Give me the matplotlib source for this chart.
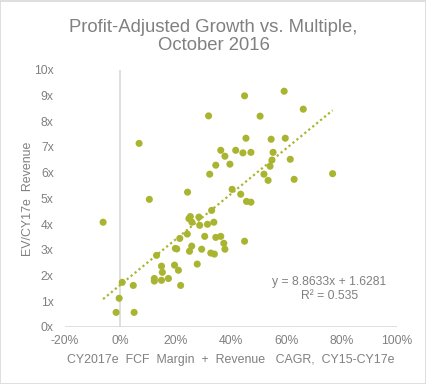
import matplotlib
matplotlib.use('Agg')
import matplotlib.pyplot as plt
import numpy as np
from matplotlib.patches import Rectangle
from matplotlib.ticker import FuncFormatter

# Profit-adjusted growth (FCF margin + revenue CAGR) vs EV / revenue multiple
growth = [
    0.319, 0.068, 0.363, 0.417, 0.378, 0.345, 0.396, 0.323, 0.404, 0.435,
    0.243, 0.105, -0.062, 0.330, 0.253, 0.284, 0.248, 0.259, 0.287, 0.315,
    0.338, 0.242, 0.215, 0.305, 0.345, 0.363, 0.374, 0.199, 0.204, 0.258,
    0.250, 0.294, 0.327, 0.340, 0.378, 0.131, 0.278, 0.149, 0.196, 0.210,
    0.152, 0.123, 0.123, 0.149, 0.174, 0.218, 0.047, 0.007, -0.004, -0.015,
    0.050, 0.449, 0.592, 0.661, 0.505, 0.454, 0.545, 0.596, 0.443, 0.472,
    0.552, 0.548, 0.614, 0.541, 0.519, 0.534, 0.628, 0.767, 0.456, 0.472,
    0.449,
]
multiple = [
    8.21, 7.14, 6.87, 6.87, 6.64, 6.29, 6.33, 5.94, 5.35, 5.16,
    5.24, 4.96, 4.07, 4.53, 4.29, 4.27, 4.21, 4.07, 3.95, 3.99,
    4.07, 3.61, 3.44, 3.52, 3.48, 3.52, 3.25, 3.05, 3.03, 3.14,
    2.94, 3.02, 2.87, 2.83, 3.02, 2.78, 2.44, 2.36, 2.40, 2.20,
    2.12, 1.88, 1.78, 1.81, 1.88, 1.61, 1.61, 1.73, 1.11, 0.56,
    0.56, 8.99, 9.17, 8.47, 8.20, 7.34, 7.30, 7.34, 6.77, 6.79,
    6.79, 6.49, 6.52, 6.25, 5.94, 5.70, 5.74, 5.96, 4.88, 4.85,
    3.33,
]
slope, intercept, r2 = 8.8633, 1.6281, 0.535

dot_color = '#A9B531'
text_color = '#808080'
axis_color = '#D9D9D9'

plt.rcParams['font.family'] = ['Liberation Sans', 'DejaVu Sans']

fig = plt.figure(figsize=(4.27, 3.84), dpi=100)
ax = fig.add_axes([0.152, 0.149, 0.778, 0.669])

ax.scatter(growth, multiple, s=26, color=dot_color, edgecolors='none', zorder=3)

# dotted linear trendline over data range
x_fit = np.array([min(growth), max(growth)])
ax.plot(x_fit, slope * x_fit + intercept, color=dot_color, linestyle=(0, (1, 1.3)),
        linewidth=1.6, zorder=2)

ax.text(0.755, 1.74, f'y = {slope}x + {intercept}', color=text_color, fontsize=8.7,
        ha='center', va='center')
ax.text(0.755, 1.19, f'R² = {r2}', color=text_color, fontsize=8.7,
        ha='center', va='center')

ax.set_xlim(-0.2, 1.0)
ax.set_ylim(0, 10)
ax.set_xticks(np.arange(-0.2, 1.01, 0.2))
ax.set_yticks(range(0, 11))
ax.xaxis.set_major_formatter(FuncFormatter(lambda v, p: f'{round(v * 100):d}%'))
ax.yaxis.set_major_formatter(FuncFormatter(lambda v, p: f'{int(v)}x'))

for s in ax.spines.values():
    s.set_visible(False)
ax.axhline(0, color=axis_color, linewidth=1.2, zorder=1)
ax.axvline(0, color=axis_color, linewidth=1.2, zorder=1)

ax.tick_params(length=0, labelsize=8.7, colors=text_color)
ax.tick_params(axis='x', pad=6)
ax.tick_params(axis='y', pad=8)

ax.set_xlabel('CY2017e  FCF  Margin  +  Revenue   CAGR,  CY15-CY17e', color=text_color,
              fontsize=8.9, labelpad=5)
ax.set_ylabel('EV/CY17e  Revenue', color=text_color, fontsize=8.9, labelpad=0)

fig.text(0.5, 0.905, 'Profit-Adjusted Growth vs. Multiple,\nOctober 2016', ha='center',
         va='center', color=text_color, fontsize=13.3, linespacing=1.05)

fig.patches.append(Rectangle((0.001, 0.001), 0.997, 0.997, transform=fig.transFigure,
                             fill=False, edgecolor=axis_color, linewidth=1.2))

fig.savefig('out.png', dpi=100)
